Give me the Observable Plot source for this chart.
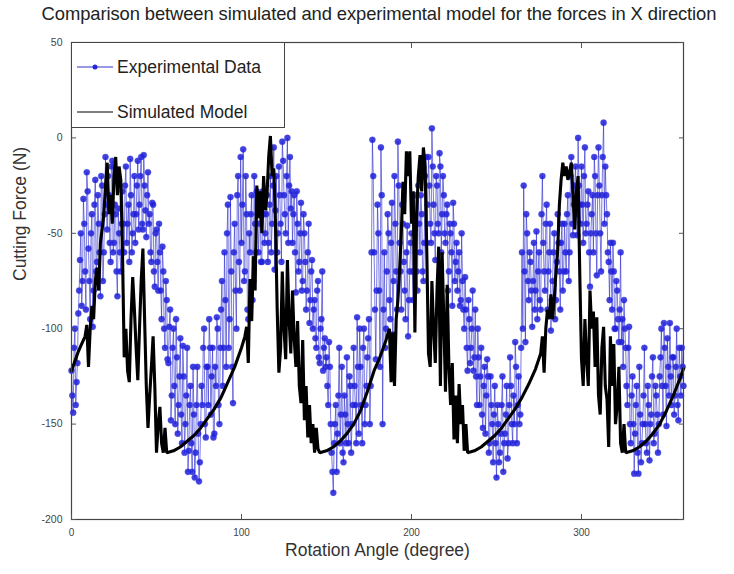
<!DOCTYPE html>
<html>
<head>
<meta charset="utf-8">
<script src="https://cdn.jsdelivr.net/npm/d3@7"></script>
<script src="https://cdn.jsdelivr.net/npm/@observablehq/plot@0.6"></script>
<style>
  html, body { margin: 0; padding: 0; background: #fff; }
  #wrap { position: relative; width: 734px; height: 574px; font-family: "Liberation Sans", Arial, sans-serif; }
  #title { height: 26px; line-height: 28px; text-align: center; font-size: 18.4px; color: #222; white-space: nowrap; letter-spacing: -0.1px; padding-left: 24px; }
  #legend { position: absolute; left: 71px; top: 42px; width: 214px; height: 86px; border: 1.2px solid #444; background: #fff; box-sizing: border-box; }
  .row { position: absolute; left: 5px; height: 20px; display: flex; align-items: center; font-size: 17.5px; color: #222; }
  .row svg { margin-right: 4px; }
</style>
</head>
<body>
<div id="wrap">
  <div id="title">Comparison between simulated and experimental model for the forces in X direction</div>
  <div id="chart"></div>
  <div id="legend">
    <div class="row" style="top:14px"><svg width="36" height="12"><line x1="0" y1="6" x2="36" y2="6" stroke="#3333cc" stroke-width="1"/><circle cx="18" cy="6" r="2.5" fill="#2626dc"/></svg>Experimental Data</div>
    <div class="row" style="top:59px"><svg width="36" height="12"><line x1="0" y1="6" x2="36" y2="6" stroke="#000" stroke-width="1.2"/></svg>Simulated Model</div>
  </div>
</div>
<script>
// Tick values
const xTicks = [0, 100, 200, 300];
const yTicks = [50, 0, -50, -100, -150, -200];

// Experimental data, series A: samples at whole degrees 0..360
const expForceA = [
  -122,-144,-100,-128,-92,-64,-88,-32,-70,-18,
  -58,-95,-40,-80,-22,-65,-45,-83,-25,-60,
  -10,-48,-30,-65,-12,-55,-40,-83,-50,-70,
  -28,-60,-15,-45,-65,-30,-50,-20,-40,-12,
  -35,-10,-48,-25,-52,-18,-40,-65,-35,-78,
  -48,-80,-60,-95,-70,-110,-85,-118,-90,-135,
  -100,-150,-115,-140,-105,-160,-125,-150,-110,-164,
  -130,-175,-145,-165,-120,-180,-150,-140,-100,-157,
  -120,-95,-145,-110,-155,-130,-100,-150,-90,-130,
  -60,-120,-35,-95,-70,-139,-45,-100,-20,-80,
  -55,-6,-70,-40,-95,-60,-30,-75,-45,-28,
  -60,-35,-65,-40,-50,-30,-55,-20,-45,-5,
  -38,-60,-15,-45,-2,-30,-50,0,-25,-37,
  -55,-30,-81,-45,-65,-34,-75,-50,-90,-60,
  -97,-70,-100,-85,-110,-75,-118,-95,-122,-105,
  -115,-140,-120,-165,-186,-150,-175,-135,-160,-120,
  -170,-145,-115,-160,-130,-150,-110,-140,-94,-155,
  -120,-160,-100,-140,-115,-95,-130,-1,-60,-116,
  -35,-80,-5,-150,-60,-100,-40,-85,-55,-103,
  -20,-70,-2,-55,-90,-45,-80,-60,-104,-70,
  -50,-85,-30,-70,-25,-60,-40,-75,-20,-55,
  -10,-45,5,-35,-64,-25,-50,-15,-40,-30,
  -55,-35,-70,-50,-88,-45,-65,-80,-60,-85,
  -75,-100,-90,-122,-95,-110,-80,-115,-125,-100,
  -140,-110,-152,-120,-135,-125,-160,-140,-170,-130,
  -178,-150,-165,-140,-175,-155,-130,-160,-115,-150,
  -135,-107,-160,-125,-145,-60,-25,-107,-50,-85,
  -65,-99,-55,-80,-95,-60,-90,-20,-70,-45,
  -90,-60,-101,-75,-50,-85,-40,-70,-55,-80,
  -45,-70,-30,-60,-10,-51,-25,-40,0,-35,
  -15,-55,-5,-45,-28,-78,-40,-60,-20,-72,
  -5,-50,-30,8,-15,-40,-65,-55,-90,-70,
  -100,-80,-107,-60,-95,-85,-110,-140,-99,-160,
  -125,-176,-140,-165,-120,-170,-150,-110,-160,-130,
  -169,-145,-115,-155,-135,-165,-125,-100,-145,-110,
  -151,-120,-97,-140,-115,-135,-100,-148,-125,-110,
  -130
];
// Experimental data, series B: samples at half degrees 0.5..359.5
const expForceB = [
  -135,-110,-140,-118,-80,-50,-75,-45,-90,-28,
  -75,-50,-99,-35,-70,-30,-60,-20,-75,-40,
  -35,-20,-55,-15,-60,-35,-70,-37,-60,-45,
  -45,-25,-55,-35,-11,-60,-40,-55,-25,-48,
  -20,-45,-9,-38,-30,-45,-60,-34,-70,-50,
  -65,-45,-80,-57,-100,-75,-116,-99,-148,-110,
  -130,-95,-155,-125,-145,-109,-165,-135,-175,-140,
  -160,-120,-178,-140,-155,-170,-130,-110,-150,-120,
  -140,-110,-125,-157,-120,-94,-140,-110,-75,-110,
  -85,-50,-110,-31,-120,-60,-80,-30,-65,-10,
  -35,-75,-20,-90,-50,-40,-85,-20,-60,-40,
  -45,-65,-28,-55,-40,-65,-35,-60,-25,-69,
  -20,-50,-30,-65,-12,-40,-20,-55,-10,-28,
  -40,-60,-28,-70,-50,-80,-40,-65,-80,-45,
  -85,-64,-90,-105,-80,-115,-100,-70,-110,-120,
  -130,-107,-150,-175,-160,-140,-155,-110,-145,-165,
  -135,-160,-150,-125,-165,-140,-130,-160,-120,-100,
  -140,-110,-150,-130,-105,-150,-60,-20,-90,-80,
  -50,-120,-30,-90,-110,-70,-50,-95,-34,-75,
  -45,-90,-25,-70,-35,-65,-95,-46,-85,-55,
  -70,-40,-60,-80,-45,-30,-70,-55,-10,-35,
  -25,-55,-15,-50,-20,-45,-8,-60,-20,-50,
  -40,-80,-45,-60,-34,-75,-55,-70,-88,-50,
  -90,-73,-110,-85,-118,-100,-122,-90,-140,-115,
  -125,-145,-130,-155,-116,-165,-125,-150,-145,-160,
  -140,-170,-155,-125,-160,-145,-168,-140,-130,-160,
  -150,-120,-140,-150,-110,-100,-70,-40,-75,-60,
  -80,-75,-90,-49,-70,-85,-40,-55,-80,-35,
  -70,-45,-85,-60,-95,-65,-55,-90,-45,-70,
  -60,-40,-75,-20,-45,-35,-15,-51,-25,-45,
  -35,-20,-50,-35,-60,-50,-30,-10,-50,-30,
  -25,-70,-10,-45,-30,-60,-85,-70,-55,-100,
  -75,-95,-90,-107,-120,-100,-130,-110,-150,-135,
  -150,-155,-130,-176,-145,-160,-135,-150,-165,-140,
  -150,-125,-160,-130,-145,-150,-115,-130,-97,-130,
  -105,-135,-125,-115,-145,-120,-140,-110,-135,-120
];

// Simulated model
const simAngle = [
  0,2,4,6,8,9,10,11,12,13,14,15,16,17,18,19,20,21,22,23,24,25,26,27,28,29,
  30,31,32,33,34,35,36,37,38,39,40,41,42,43,44,45,46,47,48,49,50,51,52,53,54,55,56,
  60,64,68,72,76,80,84,88,92,96,100,102,
  103,104,105,106,107,108,109,110,111,112,113,114,115,116,117,118,119,120,121,122,123,124,
  125,126,127,128,129,130,131,132,133,134,135,136,137,138,139,140,141,142,143,144,145,146,
  150,154,158,162,166,170,174,178,181,183,185,187,
  188,189,190,191,192,193,194,195,196,197,198,199,200,201,202,203,204,205,206,207,208,209,
  210,211,212,213,214,215,216,217,218,219,220,221,222,223,224,225,226,227,228,229,230,231,232,233,
  237,241,245,249,253,257,261,265,269,273,276,
  277,278,279,280,281,282,283,284,285,286,287,288,289,290,291,292,293,294,295,296,297,298,299,
  300,301,302,303,304,305,306,307,308,309,310,311,312,313,314,315,316,317,318,319,320,321,322,323,324,325,326,
  330,334,338,342,346,350,354,358,360
];
const simForce = [
  -122,-117,-112,-108,-104,-98,-120,-100,-88,-95,-75,-68,-80,-55,-48,-40,-25,-13,-40,-30,-45,-20,-10,-30,-15,-22,
  -60,-115,-100,-122,-128,-95,-73,-90,-110,-127,-100,-75,-58,-95,-130,-152,-135,-120,-104,-130,-165,-150,-141,-160,-165,-152,-165,
  -164,-162,-159,-156,-152,-147,-142,-136,-128,-120,-110,-104,
  -99,-118,-74,-96,-62,-80,-25,-42,-28,-50,-20,-38,-30,-10,1,-20,-16,-45,-90,-123,-110,-70,
  -100,-116,-64,-95,-113,-80,-105,-120,-96,-130,-139,-106,-148,-130,-157,-140,-160,-150,-165,-152,-163,-165,
  -164,-162,-159,-155,-150,-143,-133,-122,-116,-111,-106,-100,
  -128,-102,-130,-95,-85,-69,-50,-23,-40,-7,-20,-7,-45,-28,-102,-40,-20,-9,-28,-5,-15,-60,
  -113,-120,-75,-100,-118,-80,-57,-130,-60,-95,-133,-77,-120,-140,-118,-158,-135,-160,-129,-150,-140,-164,-150,-165,
  -164,-162,-159,-156,-152,-147,-142,-136,-129,-121,-113,
  -104,-123,-100,-90,-95,-82,-95,-84,-70,-59,-35,-22,-13,-20,-15,-22,-18,-13,-30,-48,-28,-20,-72,
  -116,-130,-95,-116,-130,-80,-100,-91,-120,-94,-135,-145,-110,-99,-130,-137,-162,-104,-130,-108,-150,-140,-120,-160,-165,-150,-165,
  -164,-162,-159,-155,-150,-143,-135,-126,-121
];

const exp = expForceA.map((v, i) => ({angle: i, force: v}))
  .concat(expForceB.map((v, i) => ({angle: i + 0.5, force: v})))
  .sort((a, b) => a.angle - b.angle);
const sim = simAngle.map((a, i) => ({angle: a, force: simForce[i]}));

const chart = Plot.plot({
  width: 734,
  height: 548,
  marginTop: 16,
  marginBottom: 55,
  marginLeft: 71,
  marginRight: 51,
  x: {domain: [0, 360]},
  y: {domain: [-200, 50]},
  style: {fontFamily: "'Liberation Sans', Arial, sans-serif", background: "white", overflow: "visible"},
  marks: [
    Plot.line(exp, {x: "angle", y: "force", stroke: "#2e2ed0", strokeWidth: 0.8, strokeOpacity: 0.8}),
    Plot.dot(exp, {x: "angle", y: "force", r: 3.1, fill: "#1f1fd8", fillOpacity: 0.85, stroke: "#5050ee", strokeWidth: 0.5, strokeOpacity: 0.6}),
    Plot.line(sim, {x: "angle", y: "force", stroke: "#000", strokeWidth: 3.1, strokeLinejoin: "miter"}),
    Plot.frame({stroke: "#444", strokeWidth: 1.2}),
    Plot.axisX({anchor: "bottom", ticks: xTicks, tickSize: 0, tickPadding: 9, tickFormat: d => String(d), fontSize: 10, fill: "#444", label: null}),
    Plot.axisX({anchor: "bottom", ticks: xTicks, tickSize: 5, dy: -5, tickFormat: () => "", label: null, stroke: "#555"}),
    Plot.axisX({anchor: "top", ticks: xTicks, tickSize: 5, dy: 5, tickFormat: () => "", label: null, stroke: "#555"}),
    Plot.axisY({anchor: "left", ticks: yTicks, tickSize: 0, tickPadding: 9, tickFormat: d => String(d), fontSize: 10.5, fill: "#444", label: null}),
    Plot.axisY({anchor: "left", ticks: yTicks, tickSize: 5, dx: 5, tickFormat: () => "", label: null, stroke: "#555"}),
    Plot.axisY({anchor: "right", ticks: yTicks, tickSize: 5, dx: -5, tickFormat: () => "", label: null, stroke: "#555"}),
    Plot.text(["Rotation Angle (degree)"], {frameAnchor: "bottom", dy: 36, fontSize: 17.5, fill: "#333"}),
    Plot.text(["Cutting Force (N)"], {frameAnchor: "left", rotate: -90, dx: -51, fontSize: 17.5, fill: "#333"})
  ]
});
document.getElementById("chart").appendChild(chart);
</script>
</body>
</html>
